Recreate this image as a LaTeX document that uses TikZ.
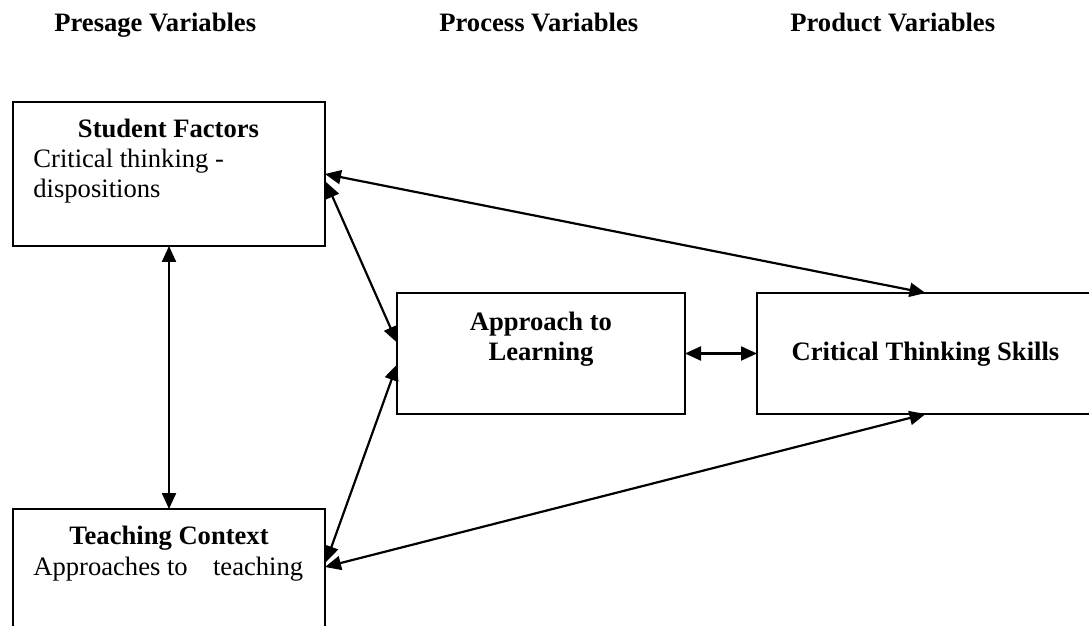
\documentclass[tikz,border=0pt]{standalone}
\usepackage{fontspec}
\setmainfont{Liberation Serif}
\usetikzlibrary{arrows.meta,calc}
\begin{document}
\begin{tikzpicture}[x=0.5pt,y=-0.5pt,
  box/.style={draw,line width=1.1pt,inner sep=0pt,outer sep=0pt},
  link/.style={line width=1.1pt,{Triangle[length=8pt,width=7pt]}-{Triangle[length=8pt,width=7pt]}},
  txt/.style={inner sep=0pt,font=\fontsize{13.3pt}{15pt}\selectfont},
  hd/.style={inner sep=0pt,font=\fontsize{13.3pt}{15pt}\selectfont\bfseries}]
\useasboundingbox (0,0) rectangle (1089,626);
\clip (0,0) rectangle (1089,626);

% column headings
\node[hd,anchor=base west] (h1) at (54,32) {Presage Variables};
\node[hd,anchor=base west] (h2) at (439,32) {Process Variables};
\node[hd,anchor=base west] (h3) at (790,32) {Product Variables};

% boxes
\node[box,minimum width=156pt,minimum height=72pt] (sf) at (169,174) {};
\node[box,minimum width=156pt,minimum height=72pt] (tc) at (169,581) {};
\node[box,minimum width=144pt,minimum height=60.5pt] (ap) at (541,353.5) {};
\node[box,minimum width=168.5pt,minimum height=60.5pt] (cts) at (925.5,353.5) {};

% box texts
\node[hd,anchor=base] (sft) at (168.5,138) {Student Factors};
\node[txt,anchor=base west] (sf1) at (33,168) {Critical thinking -};
\node[txt,anchor=base west] (sf2) at (33,198) {dispositions};
\node[hd,anchor=base] (tct) at (169,545) {Teaching Context};
\node[txt,anchor=base west] (tc1) at (33,575) {Approaches to\hspace{0.95em}teaching};
\node[hd,anchor=base] (ap1) at (541,330) {Approach to};
\node[hd,anchor=base] (ap2) at (541,360) {Learning};
\node[hd,anchor=base] (ctst) at (925.5,361) {Critical Thinking Skills};

% links
\draw[link] (sf.south) -- (tc.north);
\draw[link] (sf.east) -- (cts.north);
\draw[link] ($(sf.east)+(1,8)$) -- ($(ap.west)+(0,-11)$);
\draw[link] ($(tc.north east)+(1,53)$) -- ($(ap.west)+(0,11)$);
\draw[link] ($(tc.north east)+(0,58)$) -- (cts.south);
\draw[link] (ap.east) -- (cts.west);
\end{tikzpicture}
\end{document}
